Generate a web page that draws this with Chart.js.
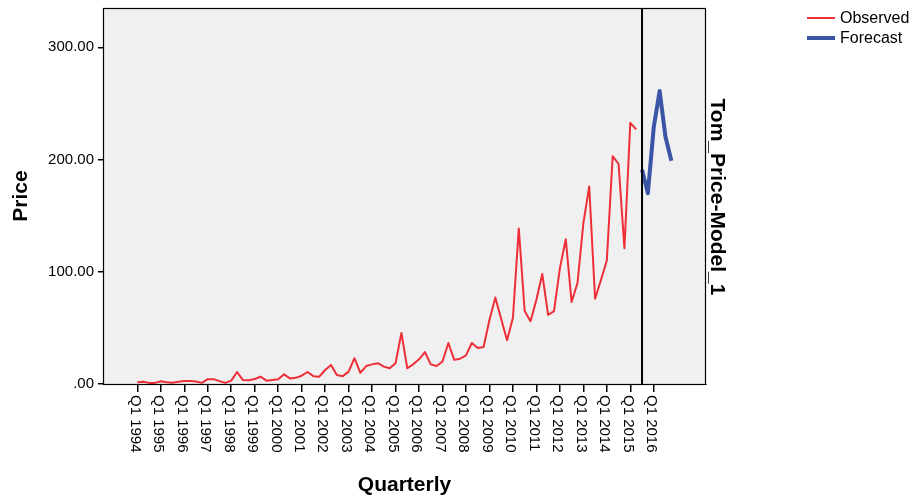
<!DOCTYPE html>
<html>
<head>
<meta charset="utf-8">
<style>
  html, body { margin: 0; padding: 0; background: #ffffff; }
  #wrap { width: 913px; height: 499px; }
</style>
<script src="https://cdn.jsdelivr.net/npm/chart.js@4/dist/chart.umd.min.js"></script>
</head>
<body>
<div id="wrap"><canvas id="c" width="913" height="499"></canvas></div>
<script>
// Quarterly series, Q1 1994 onwards
const years = [1994, 1995, 1996, 1997, 1998, 1999, 2000, 2001, 2002, 2003, 2004,
               2005, 2006, 2007, 2008, 2009, 2010, 2011, 2012, 2013, 2014, 2015, 2016];
const quarters = ['Q1', 'Q2', 'Q3', 'Q4'];

// Observed price, Q1 1994 .. Q2 2015
const observed = [
  1.5, 2, 1, 1,
  2.5, 1.5, 1.2, 2,
  2.6, 2.6, 2.3, 1,
  4.3, 4.3, 2.6, 1,
  3, 10.7, 3.5, 3.3,
  4.5, 6.5, 3, 3.5,
  4.2, 8.6, 5, 5.5,
  7.4, 10.7, 7, 6.5,
  12.5, 17, 8, 7,
  11, 23, 10, 16,
  17.5, 18.5, 15.5, 14,
  18.5, 45.5, 14, 17.5,
  22, 28.5, 17.5, 16,
  20, 36.5, 21.5, 22.5,
  25.5, 36.5, 32, 33,
  57, 77, 58, 39,
  59, 138.6, 65, 56,
  75, 98, 61.5, 65,
  103, 129, 73, 90,
  143, 176, 76, 92.6,
  110, 203, 196, 121,
  232.7, 226.8
];

// Model forecast, Q3 2015 .. Q4 2016
const forecast = [191, 170, 229, 261, 220, 199];

// Y axis ticks
const yTicks = [0, 100, 200, 300];

// Quarter names for every period
const periodLabels = [];
years.forEach(y => quarters.forEach(q => periodLabels.push(q + ' ' + y)));

const forecastStart = observed.length; // first forecast period index
const observedPoints = observed.map((v, i) => ({ x: i, y: v }));
const forecastPoints = forecast.map((v, i) => ({ x: forecastStart + i, y: v }));

const RED = '#ee2f38';
const BLUE = '#3a55a6';
const FONT = "'Liberation Sans', Arial, sans-serif";

const decor = {
  id: 'decor',
  beforeDatasetsDraw(chart) {
    const { ctx, chartArea: a } = chart;
    ctx.save();
    ctx.fillStyle = '#f0f0f0';
    ctx.fillRect(a.left, a.top, a.right - a.left, a.bottom - a.top);
    ctx.restore();
  },
  afterDatasetsDraw(chart) {
    const { ctx, chartArea: a, scales } = chart;
    ctx.save();
    // plot frame
    ctx.strokeStyle = '#000';
    ctx.lineWidth = 1.2;
    ctx.strokeRect(a.left + 0.5, a.top + 0.5, a.right - a.left - 1, a.bottom - a.top);
    // forecast start marker
    const fx = scales.x.getPixelForValue(forecastStart);
    ctx.lineWidth = 2;
    ctx.beginPath();
    ctx.moveTo(fx, a.top);
    ctx.lineTo(fx, a.bottom);
    ctx.stroke();
    ctx.restore();
  },
  afterDraw(chart) {
    const { ctx, chartArea: a, scales } = chart;
    ctx.save();
    ctx.fillStyle = '#000';

    // x tick labels, reading top to bottom
    ctx.font = '15px ' + FONT;
    ctx.textAlign = 'left';
    ctx.textBaseline = 'middle';
    scales.x.ticks.forEach(t => {
      const px = scales.x.getPixelForValue(t.value);
      ctx.save();
      ctx.translate(px - 2.5, a.bottom + 11);
      ctx.rotate(Math.PI / 2);
      ctx.fillText(periodLabels[t.value], 0, 0);
      ctx.restore();
    });

    // axis titles
    ctx.font = 'bold 21px ' + FONT;
    ctx.textAlign = 'center';
    ctx.textBaseline = 'middle';
    ctx.fillText('Quarterly', (a.left + a.right) / 2, 485);

    ctx.save();
    ctx.translate(21, 196);
    ctx.rotate(-Math.PI / 2);
    ctx.fillText('Price', 0, 0);
    ctx.restore();

    ctx.save();
    ctx.translate(a.right + 11, 197);
    ctx.rotate(Math.PI / 2);
    ctx.font = 'bold 21px ' + FONT;
    ctx.fillText('Tom_Price-Model_1', 0, 0);
    ctx.restore();

    // legend
    ctx.font = '16px ' + FONT;
    ctx.textAlign = 'left';
    chart.data.datasets.forEach((ds, i) => {
      const ly = 18 + i * 20;
      ctx.strokeStyle = ds.borderColor;
      ctx.lineWidth = ds.borderWidth;
      ctx.beginPath();
      ctx.moveTo(807, ly);
      ctx.lineTo(835, ly);
      ctx.stroke();
      ctx.fillStyle = '#000';
      ctx.fillText(ds.label, 840, ly + 1);
    });
    ctx.restore();
  }
};

new Chart(document.getElementById('c'), {
  type: 'line',
  data: {
    datasets: [
      { label: 'Observed', data: observedPoints, borderColor: RED, borderWidth: 2,
        borderJoinStyle: 'round', pointRadius: 0, tension: 0, fill: false },
      { label: 'Forecast', data: forecastPoints, borderColor: BLUE, borderWidth: 4,
        borderJoinStyle: 'round', pointRadius: 0, tension: 0, fill: false }
    ]
  },
  options: {
    responsive: false,
    animation: false,
    layout: { padding: { top: 8, right: 207, left: 0, bottom: 0 } },
    plugins: { legend: { display: false }, tooltip: { enabled: false } },
    scales: {
      x: {
        type: 'linear',
        min: -5.85,
        max: 96.9,
        afterBuildTicks(scale) {
          scale.ticks = years.map((y, i) => ({ value: i * 4 }));
        },
        afterFit(scale) { scale.height = 115; scale.paddingLeft = 0; scale.paddingRight = 0; },
        ticks: { display: false },
        border: { display: true, color: '#000', width: 1 },
        grid: { drawOnChartArea: false, drawTicks: true, tickLength: 8, color: '#000', lineWidth: 1.5 }
      },
      y: {
        min: 0,
        max: 335,
        afterBuildTicks(scale) {
          scale.ticks = yTicks.map(v => ({ value: v }));
        },
        afterFit(scale) { scale.width = 103; scale.paddingTop = 0; scale.paddingBottom = 0; },
        ticks: {
          color: '#000',
          padding: 4,
          font: { family: FONT, size: 15 },
          callback: v => (v === 0 ? '.00' : v.toFixed(2))
        },
        border: { display: true, color: '#000', width: 1 },
        grid: { drawOnChartArea: false, drawTicks: true, tickLength: 5, color: '#000', lineWidth: 1.5 }
      }
    }
  },
  plugins: [decor]
});
</script>
</body>
</html>
